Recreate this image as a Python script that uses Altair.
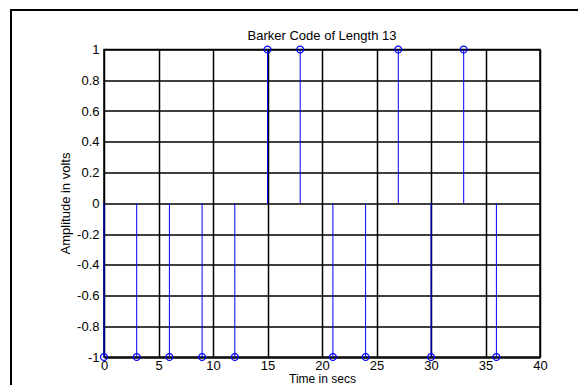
import altair as alt
import pandas as pd

# Barker sequence of length 13, one chip every 3 seconds
time_s = [0, 3, 6, 9, 12, 15, 18, 21, 24, 27, 30, 33, 36]
amplitude = [-1, -1, -1, -1, -1, 1, 1, -1, -1, 1, -1, 1, -1]

x_ticks = [0, 5, 10, 15, 20, 25, 30, 35, 40]
y_ticks = [-1, -0.8, -0.6, -0.4, -0.2, 0, 0.2, 0.4, 0.6, 0.8, 1]

title_text = "Barker Code of Length 13"

df = pd.DataFrame({"t": time_s, "amp": amplitude})

FONT = "Liberation Sans"
FS = 13
BLUE = "#0000ff"

x_scale = alt.Scale(domain=[0, 40], nice=False, zero=False)
y_scale = alt.Scale(domain=[-1, 1], nice=False, zero=False)

label_fix = "replace(format(datum.value, '~g'), '\u2212', '-')"

x_axis = alt.Axis(
    values=x_ticks, tickCount=50, grid=True, gridColor="black", gridWidth=1.5,
    gridOpacity=1, ticks=False, domain=False, labelPadding=2, labelExpr=label_fix,
    labelOverlap=False, labelFlush=False, labelBound=False,
    labelFont=FONT, labelFontSize=FS, labelColor="black",
    title="Time in secs", titleFont=FONT, titleFontSize=12,
    titleFontWeight="normal", titleColor="black",
    titleX=218, titleY=21.5, titleBaseline="middle",
)
y_axis = alt.Axis(
    values=y_ticks, tickCount=50, grid=True, gridColor="black", gridWidth=1.5,
    gridOpacity=1, ticks=False, domain=False, labelPadding=5, labelExpr=label_fix,
    labelOverlap=False, labelFlush=False, labelBound=False,
    labelFont=FONT, labelFontSize=FS, labelColor="black",
    title="Amplitude in volts", titleFont=FONT, titleFontSize=FS,
    titleFontWeight="normal", titleColor="black",
    titleX=-39, titleY=153.5, titleAngle=-90, titleBaseline="middle",
)

base = alt.Chart(df)

# figure border: top and left edges of the surrounding window frame
frame_top = base.mark_rule(color="black", strokeWidth=2).encode(
    x=alt.value(-94), x2=alt.value(480), y=alt.value(-39.5)
)
frame_left = base.mark_rule(color="black", strokeWidth=2).encode(
    x=alt.value(-93), y=alt.value(-40.5), y2=alt.value(345)
)

# plot title above the axes
heading = alt.Chart(pd.DataFrame({"label": [title_text]})).mark_text(
    font=FONT, fontSize=FS, color="black", align="center", baseline="middle"
).encode(
    text="label:N", x=alt.value(218), y=alt.value(-13.5)
)

stems = base.mark_rule(color=BLUE, strokeWidth=1).encode(
    x=alt.X("t:Q", scale=x_scale, axis=x_axis),
    y=alt.Y("amp:Q", scale=y_scale, axis=y_axis),
    y2=alt.datum(0),
)

heads = base.mark_point(
    shape="circle", filled=False, color=BLUE, size=48, strokeWidth=1.2, opacity=1
).encode(
    x=alt.X("t:Q", scale=x_scale),
    y=alt.Y("amp:Q", scale=y_scale),
)

chart = (
    alt.layer(frame_top, frame_left, heading, stems, heads)
    .properties(
        width=436,
        height=307.5,
        autosize=alt.AutoSizeParams(type="none"),
        padding={"left": 104, "top": 49.5, "right": 38, "bottom": 28},
        background="white",
    )
    .configure_view(stroke="black", strokeWidth=1.5)
)

chart.save("out.html", embed_options={"renderer": "svg", "actions": False})
